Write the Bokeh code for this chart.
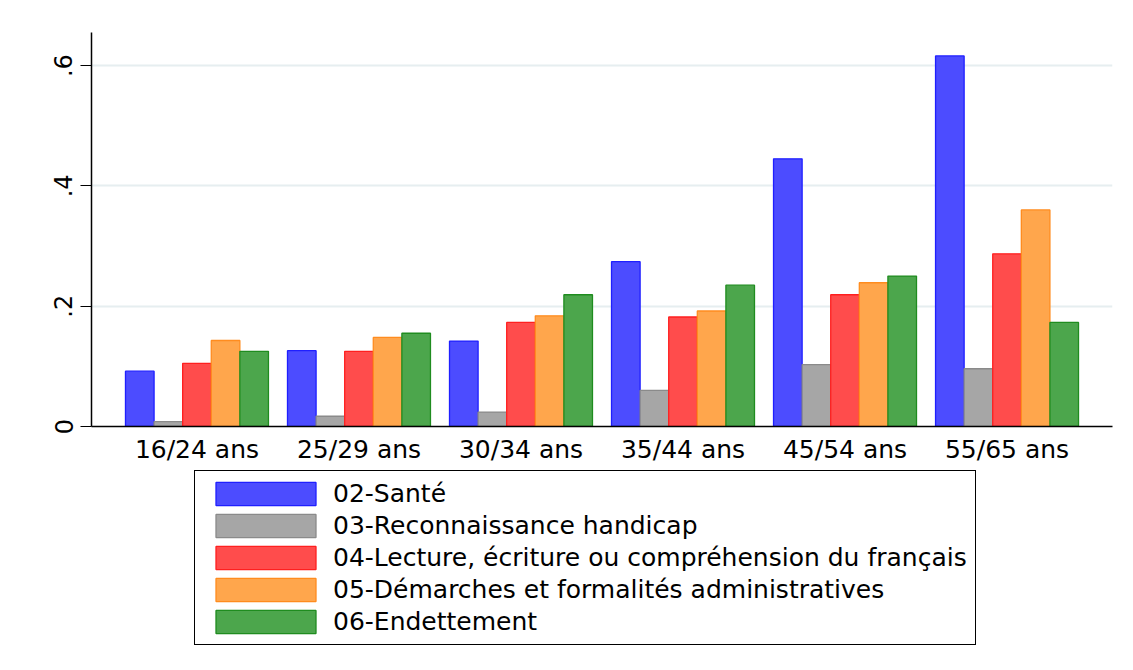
from bokeh.plotting import figure
from bokeh.models import Range1d, FixedTicker, CustomJSTickFormatter, Legend, LegendItem
from bokeh.layouts import column
from bokeh.embed import file_html
from bokeh.resources import INLINE

# ---- data ----
categories = ["16/24 ans", "25/29 ans", "30/34 ans", "35/44 ans", "45/54 ans", "55/65 ans"]
series_names = [
    "02-Santé",
    "03-Reconnaissance handicap",
    "04-Lecture, écriture ou compréhension du français",
    "05-Démarches et formalités administratives",
    "06-Endettement",
]
sante = [0.092, 0.126, 0.142, 0.274, 0.445, 0.616]
handicap = [0.008, 0.017, 0.024, 0.060, 0.103, 0.096]
lecture = [0.105, 0.125, 0.173, 0.182, 0.219, 0.287]
demarches = [0.143, 0.148, 0.184, 0.192, 0.239, 0.360]
endettement = [0.125, 0.155, 0.219, 0.235, 0.250, 0.173]
y_ticks = [0, 0.2, 0.4, 0.6]

series_values = [sante, handicap, lecture, demarches, endettement]
fills = ["#4c4cff", "#a6a6a6", "#ff4c4c", "#ffa64c", "#4ca64c"]
lines = ["#1f1fff", "#8a8a8a", "#ff1f1f", "#ff8c1f", "#1f8c1f"]

FONT = "DejaVu Sans"
bar_w = 0.1765

p = figure(width=1125, height=466, output_backend="svg", toolbar_location=None,
           x_range=Range1d(0.349, 6.651), y_range=Range1d(0, 0.655),
           min_border_left=91, min_border_top=32, min_border_right=13, min_border_bottom=40)
p.outline_line_color = None
p.background_fill_color = "white"
p.border_fill_color = "white"

for j, (name, vals) in enumerate(zip(series_names, series_values)):
    xs = [i + 1 + (j - 2) * bar_w for i in range(len(categories))]
    p.vbar(x=xs, top=vals, bottom=0, width=bar_w, fill_color=fills[j],
           line_color=lines[j], line_width=1.3)

# axes
p.xaxis.ticker = FixedTicker(ticks=list(range(1, len(categories) + 1)))
p.xaxis.major_label_overrides = {i + 1: c for i, c in enumerate(categories)}
p.xaxis.major_tick_out = 0
p.xaxis.major_tick_in = 0
p.xaxis.minor_tick_out = 0
p.xaxis.minor_tick_in = 0
p.xaxis.axis_line_color = "black"
p.xaxis.axis_line_width = 1.5
p.xaxis.major_label_text_font = FONT
p.xaxis.major_label_text_font_size = "25px"
p.xaxis.major_label_text_color = "black"
p.xaxis.major_label_standoff = 8

p.yaxis.ticker = FixedTicker(ticks=y_ticks)
p.yaxis.formatter = CustomJSTickFormatter(code="""
    if (tick == 0) { return "0"; }
    return tick.toFixed(1).replace(/^0/, "");
""")
p.yaxis.major_label_orientation = "vertical"
p.yaxis.major_tick_out = 11
p.yaxis.major_tick_in = 0
p.yaxis.minor_tick_out = 0
p.yaxis.minor_tick_in = 0
p.yaxis.axis_line_color = "black"
p.yaxis.axis_line_width = 1.5
p.yaxis.major_tick_line_color = "black"
p.yaxis.major_tick_line_width = 1.2
p.yaxis.major_label_text_font = FONT
p.yaxis.major_label_text_font_size = "24px"
p.yaxis.major_label_text_color = "black"
p.yaxis.major_label_standoff = 8

p.xgrid.visible = False
p.ygrid.ticker = FixedTicker(ticks=[0.2, 0.4, 0.6])
p.ygrid.grid_line_color = "#e6eef0"
p.ygrid.grid_line_width = 2

# ---- legend in a second, axis-less figure (its frame is aligned with the plot's) ----
q = figure(width=1125, height=196, output_backend="svg", toolbar_location=None,
           x_range=Range1d(0, 1), y_range=Range1d(0, 1),
           x_axis_type=None, y_axis_type=None,
           min_border_left=91, min_border_right=13, min_border_top=0, min_border_bottom=0)
q.outline_line_color = None
q.grid.visible = False
q.border_fill_color = "white"

items = []
for j, name in enumerate(series_names):
    # legend-only proxy renderers (hidden; only their style is used by the legend)
    r = q.vbar(x=[0.5], top=[0.5], width=0.1, fill_color=fills[j], line_color=lines[j],
               line_width=1.3, visible=False)
    items.append(LegendItem(label=name, renderers=[r]))

legend = Legend(items=items, location=(103, 17))
legend.glyph_width = 125
legend.glyph_height = 29
legend.label_standoff = 5
legend.label_text_font = FONT
legend.label_text_font_size = "25px"
legend.label_text_color = "black"
legend.label_height = 24
legend.spacing = 3
legend.padding = 8
legend.margin = 0
legend.border_line_color = "black"
legend.border_line_alpha = 1
legend.border_line_width = 1.2
legend.background_fill_alpha = 1
legend.inactive_fill_alpha = 0
q.add_layout(legend, "center")

layout = column(p, q, spacing=0)
open("out.html", "w").write(file_html(layout, INLINE))
